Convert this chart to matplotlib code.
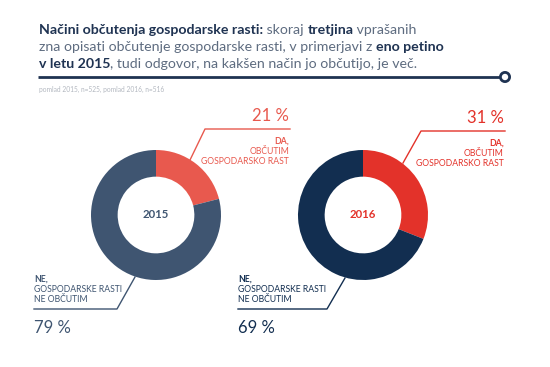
import matplotlib
matplotlib.use("Agg")
import matplotlib.pyplot as plt

years = ["2015", "2016"]
yes_pct = [21, 31]
no_pct = [79, 69]
yes_colors = ["#E8594E", "#E3322A"]
no_colors = ["#3F5571", "#122E50"]
yes_label = ["DA,", "OBČUTIM", "GOSPODARSKO RAST"]
no_label = ["NE,", "GOSPODARSKE RASTI", "NE OBČUTIM"]
title_parts = [
    [("Načini občutenja gospodarske rasti:", True), (" skoraj ", False), ("tretjina", True), (" vprašanih", False)],
    [("zna opisati občutenje gospodarske rasti, v primerjavi z ", False), ("eno petino", True)],
    [("v letu 2015", True), (", tudi odgovor, na kakšen način jo občutijo, je več.", False)],
]
source = "pomlad 2015, n=525, pomlad 2016, n=516"

W, H = 550, 367
FONT = "Lato"
fig = plt.figure(figsize=(W / 100, H / 100), dpi=100)
ax = fig.add_axes([0, 0, 1, 1])
ax.set_xlim(0, W)
ax.set_ylim(H, 0)
ax.axis("off")

NAVY = "#1F3352"
GREY = "#5E6C80"

# title
fig.canvas.draw()
renderer = fig.canvas.get_renderer()
y0 = 30
for i, line in enumerate(title_parts):
    x = 39
    y = y0 + i * 17
    for txt, bold in line:
        t = ax.text(x, y, txt, fontsize=10.2, family=FONT,
                    fontweight="bold" if bold else "normal",
                    color=NAVY if bold else GREY, va="center", ha="left")
        bb = t.get_window_extent(renderer)
        x += bb.width

ax.plot([38, 500], [77, 77], color=NAVY, lw=2, solid_capstyle="butt")
circ = plt.Circle((505, 77), 4.6, facecolor="white", edgecolor=NAVY, lw=2)
ax.add_patch(circ)
ax.text(39, 89, source, fontsize=4.8, family=FONT, color="#B3B8C0", va="center")

centers = [(156, 215), (363, 215)]
R = 65
yes_anchor = [((205, 129), (190, 160), 289), ((421, 131), (403, 163), 504)]
no_anchor = [((117, 309), (135, 277), 34), ((327, 309), (345, 278), 238)]

for i in range(2):
    cx, cy = centers[i]
    pax = fig.add_axes([(cx - R) / W, (H - cy - R) / H, 2 * R / W, 2 * R / H])
    pax.pie([yes_pct[i], no_pct[i]], colors=[yes_colors[i], no_colors[i]],
            startangle=90, counterclock=False, radius=1,
            wedgeprops=dict(width=0.41, linewidth=0))
    pax.set_xlim(-1, 1)
    pax.set_ylim(-1, 1)
    pax.set_aspect("auto")
    pax.axis("off")
    pax.text(0, 0, years[i], ha="center", va="center", fontsize=8.2,
             family=FONT, fontweight="bold",
             color=no_colors[i] if i == 0 else yes_colors[i])

    # yes label
    (ux, uy), (px, py), rx = yes_anchor[i]
    c = yes_colors[i]
    ax.plot([px, ux, rx + 1], [py, uy, uy], color=c, lw=1)
    ax.text(rx, uy - 13, f"{yes_pct[i]} %", ha="right", va="center",
            fontsize=12, family=FONT, fontweight="normal", color=c)
    for k, s in enumerate(yes_label):
        ax.text(rx, uy + 12 + k * 10, s, ha="right", va="center",
                fontsize=6.2, family=FONT,
                fontweight="bold" if k == 0 else "normal", color=c)

    # no label
    (ux, uy), (px, py), lx = no_anchor[i]
    c = no_colors[i]
    ax.plot([lx, ux, px], [uy, uy, py], color=c, lw=1)
    ax.text(lx, uy + 19, f"{no_pct[i]} %", ha="left", va="center",
            fontsize=12, family=FONT, fontweight="normal", color=c)
    for k, s in enumerate(no_label):
        ax.text(lx, uy - 30 + k * 10, s, ha="left", va="center",
                fontsize=6.2, family=FONT,
                fontweight="bold" if k == 0 else "normal", color=c)

fig.savefig("out.png", dpi=100, facecolor="white")
